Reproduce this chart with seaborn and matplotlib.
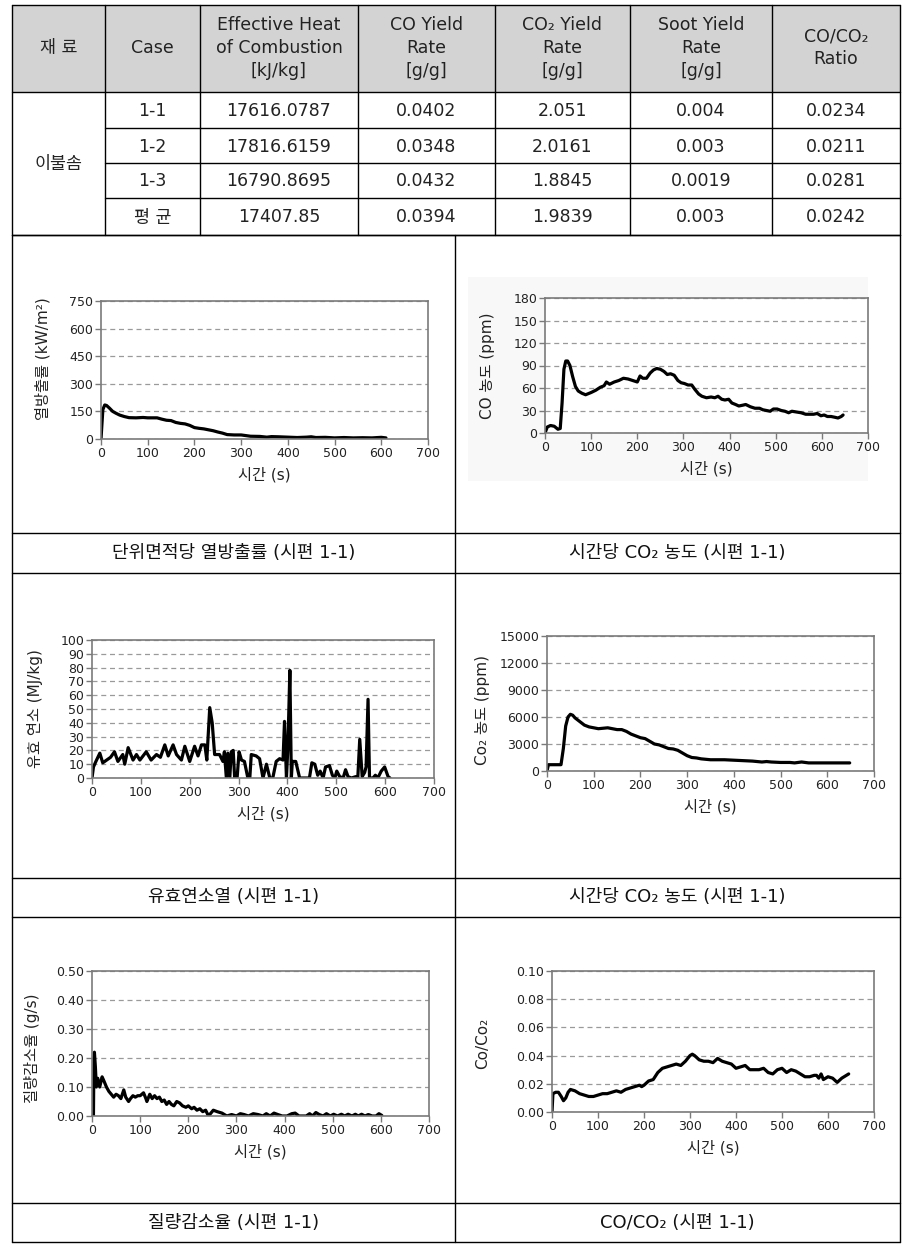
import matplotlib
matplotlib.use("Agg")
import matplotlib.pyplot as plt
import seaborn as sns
import pandas as pd
import numpy as np
from matplotlib.patches import Rectangle
from matplotlib.ticker import FormatStrFormatter

sns.set_style("white")
plt.rcParams['font.family'] = ['DejaVu Sans', 'Noto Sans CJK KR']

W, H = 911, 1256

# ---- table data
headers = ["재 료", "Case", "Effective Heat\nof Combustion\n[kJ/kg]", "CO Yield\nRate\n[g/g]",
           "CO₂ Yield\nRate\n[g/g]", "Soot Yield\nRate\n[g/g]", "CO/CO₂\nRatio"]
material = "이불솜"
cases = ["1-1", "1-2", "1-3", "평 균"]
heat_of_combustion = ["17616.0787", "17816.6159", "16790.8695", "17407.85"]
co_yield = ["0.0402", "0.0348", "0.0432", "0.0394"]
co2_yield = ["2.051", "2.0161", "1.8845", "1.9839"]
soot_yield = ["0.004", "0.003", "0.0019", "0.003"]
co_co2_ratio = ["0.0234", "0.0211", "0.0281", "0.0242"]

# ---- series
hrr_t = [0, 4, 8, 12, 18, 25, 32, 40, 50, 60, 75, 90, 100, 120, 130, 140, 150, 160, 170, 180,
         190, 200, 210, 220, 230, 240, 250, 260, 270, 285, 300, 320, 340, 355, 365, 380, 400, 420,
         440, 450, 460, 480, 500, 520, 540, 560, 580, 600, 610]
hrr_v = [0, 160, 185, 182, 168, 150, 140, 130, 122, 116, 115, 117, 115, 115, 108, 102, 100, 90, 85, 82,
         74, 62, 58, 55, 50, 45, 38, 32, 24, 22, 22, 15, 14, 10, 13, 12, 10, 8,
         10, 12, 8, 9, 6, 8, 6, 7, 6, 9, 6]

co_t = [0, 5, 12, 20, 28, 33, 37, 41, 45, 49, 54, 60, 66, 72, 80, 88, 100, 110, 120, 128,
        133, 140, 150, 160, 170, 180, 190, 200, 206, 212, 220, 228, 235, 242, 250, 258, 265, 272, 280, 288,
        295, 302, 310, 318, 325, 333, 340, 350, 360, 368, 375, 383, 390, 398, 405, 413, 420, 428, 435, 445,
        455, 465, 472, 480, 488, 495, 503, 512, 520, 528, 535, 545, 555, 565, 575, 582, 590, 598, 605, 612,
        620, 628, 635, 642, 646]
co_v = [0, 8, 10, 9, 5, 6, 40, 85, 96, 96, 90, 75, 62, 56, 53, 51, 54, 57, 61, 63,
        68, 65, 68, 70, 73, 72, 70, 68, 76, 73, 73, 80, 84, 86, 85, 82, 78, 79, 77, 70,
        67, 66, 64, 64, 58, 52, 49, 47, 48, 47, 49, 45, 44, 45, 40, 38, 36, 37, 38, 35,
        33, 33, 31, 30, 29, 32, 32, 30, 29, 27, 29, 28, 27, 25, 25, 25, 26, 23, 24, 22,
        22, 21, 20, 22, 24]

ehc_t = [0, 3, 8, 16, 22, 30, 38, 46, 53, 63, 67, 74, 84, 91, 98, 111, 121, 132, 140, 149,
         156, 166, 173, 183, 190, 200, 210, 217, 224, 231, 235, 241, 246, 251, 261, 268, 271, 275, 278, 282,
         285, 289, 292, 297, 301, 306, 312, 319, 323, 326, 336, 343, 350, 357, 364, 370, 377, 384, 391, 394,
         398, 401, 405, 408, 410, 417, 425, 445, 450, 456, 462, 467, 473, 478, 486, 492, 497, 501, 507, 514,
         519, 524, 531, 540, 544, 548, 553, 558, 561, 565, 568, 575, 580, 585, 592, 599, 606, 610]
ehc_v = [0, 8, 12, 18, 11, 13, 15, 19, 12, 17, 10, 22, 13, 17, 13, 19, 13, 17, 15, 24,
         16, 24, 17, 13, 23, 12, 23, 16, 24, 24, 13, 51, 40, 17, 17, 12, 19, 0, 18, 0,
         19, 20, 0, 0, 19, 13, 12, 0, 0, 17, 16, 14, 0, 10, 0, 0, 12, 14, 13, 41,
         0, 23, 78, 0, 12, 12, 0, 0, 11, 10, 2, 5, 0, 8, 9, 2, 0, 5, 1, 0,
         6, 1, 0, 1, 0, 28, 1, 4, 8, 57, 0, 0, 2, 0, 5, 8, 1, 0]

co2_t = [0, 3, 10, 20, 30, 35, 40, 45, 50, 55, 60, 70, 80, 90, 100, 110, 120, 130, 140, 150,
         160, 170, 180, 190, 200, 210, 220, 230, 240, 250, 260, 270, 280, 290, 300, 310, 320, 330, 340, 350,
         360, 380, 400, 420, 440, 450, 460, 470, 480, 500, 520, 530, 545, 560, 580, 600, 620, 648]
co2_v = [0, 700, 700, 700, 700, 2500, 5000, 6000, 6300, 6200, 5900, 5500, 5100, 4900, 4800, 4700, 4750, 4800, 4700, 4600,
         4600, 4400, 4100, 3900, 3700, 3600, 3300, 3000, 2900, 2700, 2500, 2450, 2300, 2000, 1700, 1500, 1450, 1350, 1300, 1250,
         1250, 1250, 1200, 1150, 1100, 1050, 1000, 1050, 1000, 950, 950, 900, 1000, 900, 900, 900, 900, 900]

mlr_t = [0, 3, 4, 5, 7, 9, 12, 16, 21, 25, 30, 35, 40, 45, 50, 55, 60, 66, 70, 76,
         80, 85, 90, 95, 100, 107, 112, 114, 120, 125, 130, 135, 140, 145, 150, 155, 160, 165, 170, 176,
         182, 188, 195, 200, 207, 212, 218, 224, 230, 236, 242, 252, 260, 270, 280, 290, 300, 308, 316, 325,
         335, 345, 355, 362, 370, 378, 386, 395, 405, 415, 422, 430, 445, 452, 458, 465, 472, 480, 487, 495,
         502, 510, 518, 525, 532, 540, 547, 553, 560, 567, 574, 582, 590, 596, 602]
mlr_v = [0, 0, 0.20, 0.22, 0.17, 0.10, 0.13, 0.10, 0.135, 0.12, 0.10, 0.085, 0.075, 0.065, 0.075, 0.07, 0.06, 0.09, 0.065, 0.05,
         0.06, 0.07, 0.065, 0.07, 0.07, 0.08, 0.06, 0.05, 0.075, 0.06, 0.07, 0.06, 0.065, 0.05, 0.055, 0.04, 0.05, 0.04, 0.035, 0.05,
         0.045, 0.035, 0.03, 0.035, 0.025, 0.03, 0.02, 0.025, 0.015, 0.02, 0.0, 0.02, 0.015, 0.01, 0.0, 0.005, 0.0, 0.008, 0.005, 0.0,
         0.008, 0.005, 0.0, 0.008, 0.0, 0.01, 0.005, 0.0, 0.0, 0.008, 0.01, 0.0, 0.0, 0.008, 0.0, 0.012, 0.005, 0.0, 0.008, 0.0,
         0.006, 0.0, 0.006, 0.0, 0.006, 0.0, 0.006, 0.0, 0.006, 0.0, 0.005, 0.0, 0.0, 0.008, 0.002]

ratio_t = [0, 2, 8, 14, 20, 25, 30, 35, 40, 50, 60, 70, 80, 90, 100, 110, 120, 130, 140, 150,
           160, 170, 180, 190, 195, 200, 210, 220, 230, 240, 250, 260, 270, 280, 290, 300, 305, 310, 320, 330,
           340, 350, 360, 370, 380, 390, 400, 410, 420, 430, 440, 450, 460, 470, 480, 490, 500, 510, 520, 530,
           540, 550, 560, 570, 575, 580, 585, 590, 600, 610, 620, 630, 640, 645]
ratio_v = [0, 0.013, 0.014, 0.014, 0.011, 0.008, 0.01, 0.014, 0.016, 0.015, 0.013, 0.012, 0.011, 0.011, 0.012, 0.013, 0.013, 0.014, 0.015, 0.014,
           0.016, 0.017, 0.018, 0.019, 0.018, 0.019, 0.022, 0.023, 0.028, 0.031, 0.032, 0.033, 0.034, 0.033, 0.036, 0.04, 0.041, 0.04, 0.037, 0.036,
           0.036, 0.035, 0.038, 0.036, 0.035, 0.034, 0.031, 0.032, 0.033, 0.03, 0.03, 0.03, 0.031, 0.028, 0.027, 0.03, 0.031, 0.028, 0.03, 0.029,
           0.027, 0.025, 0.025, 0.026, 0.026, 0.024, 0.027, 0.023, 0.025, 0.024, 0.021, 0.024, 0.026, 0.027]

captions = ["단위면적당 열방출률 (시편 1-1)", "시간당 CO₂ 농도 (시편 1-1)",
            "유효연소열 (시편 1-1)", "시간당 CO₂ 농도 (시편 1-1)",
            "질량감소율 (시편 1-1)", "CO/CO₂ (시편 1-1)"]

fig = plt.figure(figsize=(W / 100, H / 100), dpi=100)

# full-page overlay in pixel coordinates for the table and cell borders
bg = fig.add_axes([0, 0, 1, 1])
bg.set_xlim(0, W)
bg.set_ylim(H, 0)
bg.axis("off")

col_edges = [12, 105, 200, 358, 495, 630, 772, 900]
row_edges = [5, 92, 128, 163, 198, 235]
bg.add_patch(Rectangle((12, 5), 888, 87, fc="#d3d3d3", ec="none"))

lk = dict(color="black", lw=1.0)
for y in row_edges:
    x0 = 12 if y in (5, 92, 235) else 105
    bg.plot([x0, 900], [y, y], **lk)
for x in col_edges:
    bg.plot([x, x], [5, 235], **lk)

for i, h in enumerate(headers):
    cx = (col_edges[i] + col_edges[i + 1]) / 2
    bg.text(cx, 48, h, ha="center", va="center", fontsize=12.5, linespacing=1.35, color="#222")

table_cols = [cases, heat_of_combustion, co_yield, co2_yield, soot_yield, co_co2_ratio]
for r in range(4):
    cy = (row_edges[r + 1] + row_edges[r + 2]) / 2
    for c, col in enumerate(table_cols):
        cx = (col_edges[c + 1] + col_edges[c + 2]) / 2
        bg.text(cx, cy + 1, col[r], ha="center", va="center", fontsize=12.5, color="#222")
bg.text((12 + 105) / 2, (92 + 235) / 2, material, ha="center", va="center", fontsize=12.5, color="#222")

# chart grid
grid_rows = [235, 533, 573, 878, 917, 1203, 1242]
for y in grid_rows:
    bg.plot([12, 900], [y, y], **lk)
for x in (12, 455, 900):
    bg.plot([x, x], [235, 1242], **lk)

cap_y = [553, 897.5, 1222.5]
for k, cap in enumerate(captions):
    cx = 233.5 if k % 2 == 0 else 677.5
    bg.text(cx, cap_y[k // 2], cap, ha="center", va="center", fontsize=13, color="#111")

# faint tint behind the pasted CO chart image
bg.add_patch(Rectangle((468, 277), 400, 204, fc="#f8f8f8", ec="none", zorder=0))


def px_axes(l, t, r, b):
    return fig.add_axes([l / W, 1 - b / H, (r - l) / W, (b - t) / H])


def draw(box, t, v, ymax, ystep, fmt, ylabel, lab_x, lab_y=0.5):
    ax = px_axes(*box)
    df = pd.DataFrame({"time": t, "value": v})
    sns.lineplot(data=df, x="time", y="value", ax=ax, color="black", lw=2.3, estimator=None, sort=False)
    ax.set_xlim(0, 700)
    ax.set_ylim(0, ymax)
    ax.set_xticks(range(0, 701, 100))
    ax.set_yticks(np.arange(0, ymax + ystep / 2, ystep))
    ax.yaxis.set_major_formatter(FormatStrFormatter(fmt))
    ax.grid(axis="y", ls=(0, (4, 3)), color="#9a9a9a", lw=0.9)
    ax.set_axisbelow(True)
    for s in ax.spines.values():
        s.set_color("#7a7a7a")
        s.set_linewidth(1.2)
    ax.tick_params(direction="out", length=4, width=1, color="#7a7a7a", labelsize=9,
                   labelcolor="#222", pad=1.5, left=True, bottom=True)
    ax.set_xlabel("시간 (s)", fontsize=11, color="#222", labelpad=5)
    ax.set_ylabel(ylabel, fontsize=11, color="#222")
    l, tp, r, b = box
    ax.yaxis.set_label_coords((lab_x - l) / (r - l), lab_y)
    return ax


draw((101, 301, 428, 439), hrr_t, hrr_v, 750, 150, "%d", "열방출률 (kW/m²)", 51, 0.58)
draw((545, 298, 868, 433), co_t, co_v, 180, 30, "%d", "CO 농도 (ppm)", 495)
draw((92, 640, 434, 778), ehc_t, ehc_v, 100, 10, "%d", "유효 연소 (MJ/kg)", 43)
draw((547, 636, 874, 771), co2_t, co2_v, 15000, 3000, "%d", "Co₂ 농도 (ppm)", 490, 0.45)
draw((92, 971, 429, 1116), mlr_t, mlr_v, 0.5, 0.1, "%.2f", "질량감소율 (g/s)", 40, 0.47)
draw((552, 971, 874, 1112), ratio_t, ratio_v, 0.1, 0.02, "%.2f", "Co/Co₂", 490, 0.49)

fig.savefig("out.png", dpi=100)
